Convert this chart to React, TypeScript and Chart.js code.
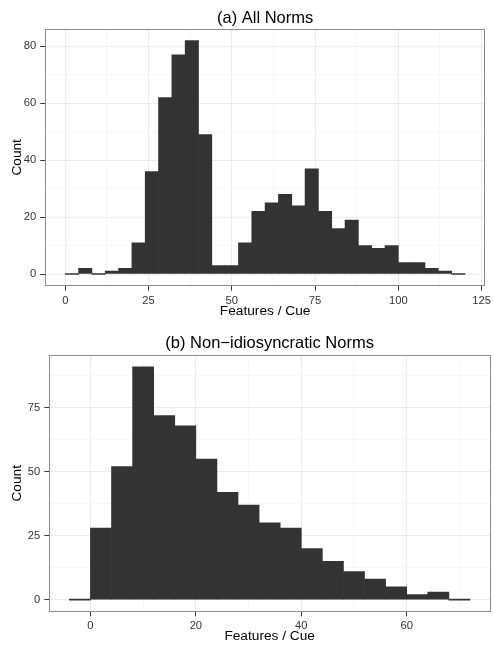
import React, { useEffect, useRef } from 'react';
import { Chart, registerables } from 'chart.js';

Chart.register(...registerables);

const FONT = "'Liberation Sans', Arial, Helvetica, sans-serif";

const titleA = '(a) All Norms';
const titleB = '(b) Non\u2212idiosyncratic Norms';
const xLabel = 'Features / Cue';
const yLabel = 'Count';

// Panel (a): bins of width 4, bin centres
const binMidsA = [2, 6, 10, 14, 18, 22, 26, 30, 34, 38, 42, 46, 50, 54, 58, 62, 66, 70, 74, 78, 82, 86, 90, 94, 98, 102, 106, 110, 114, 118];
const countsA = [0, 2, 0, 1, 2, 11, 36, 62, 77, 82, 49, 3, 3, 11, 22, 25, 28, 24, 37, 22, 16, 19, 10, 9, 10, 4, 4, 2, 1, 0];

// Panel (b)
const binMidsB = [-2, 2, 6, 10, 14, 18, 22, 26, 30, 34, 38, 42, 46, 50, 54, 58, 62, 66, 70];
const countsB = [0, 28, 52, 91, 72, 68, 55, 42, 37, 30, 28, 20, 15, 11, 8, 5, 2, 3, 0];

const xTicksA = [0, 25, 50, 75, 100, 125];
const xMinorA = [12.5, 37.5, 62.5, 87.5, 112.5];
const yTicksA = [0, 20, 40, 60, 80];
const yMinorA = [10, 30, 50, 70];
const xRangeA = [-6, 126];
const yRangeA = [-4.1, 86.1];

const xTicksB = [0, 20, 40, 60];
const xMinorB = [10, 30, 50, 70];
const yTicksB = [0, 25, 50, 75];
const yMinorB = [12.5, 37.5, 62.5, 87.5];
const xRangeB = [-7.8, 75.8];
const yRangeB = [-4.55, 95.55];

const panelBorder = {
  id: 'panelBorder',
  afterDatasetsDraw(chart: any) {
    const { ctx, chartArea: a } = chart;
    ctx.save();
    ctx.strokeStyle = '#8c8c8c';
    ctx.lineWidth = 1;
    const l = Math.floor(a.left) + 0.5;
    const t = Math.floor(a.top) + 0.5;
    const r = Math.floor(a.right) + 0.5;
    const b = Math.floor(a.bottom) + 0.5;
    ctx.strokeRect(l, t, r - l, b - t);
    ctx.restore();
  },
};

function makeAxis(
  major: number[],
  minor: number[],
  range: number[],
  size: number,
  horizontal: boolean,
  title: string,
  titlePad: any
) {
  const all = [...major, ...minor].sort((a, b) => a - b);
  const isMajor = (v: number) => major.includes(v);
  return {
    type: 'linear',
    min: range[0],
    max: range[1],
    offset: false,
    afterBuildTicks: (s: any) => {
      s.ticks = all.map((v) => ({ value: v }));
    },
    afterFit: (s: any) => {
      if (horizontal) s.height = size;
      else s.width = size;
    },
    ticks: {
      autoSkip: false,
      maxRotation: 0,
      minRotation: 0,
      padding: horizontal ? 3 : 4,
      color: '#333333',
      font: { family: FONT, size: 11.2 },
      callback: (v: number) => (isMajor(v) ? String(v) : ''),
    },
    grid: {
      offset: false,
      drawTicks: true,
      tickLength: 5,
      lineWidth: 1,
      tickWidth: 1,
      color: (c: any) => (c.tick && isMajor(c.tick.value) ? '#ebebeb' : '#f7f7f7'),
      tickColor: (c: any) => (c.tick && isMajor(c.tick.value) ? '#333333' : 'rgba(0,0,0,0)'),
    },
    border: { display: false },
    title: {
      display: true,
      text: title,
      color: '#000000',
      font: { family: FONT, size: 13.7 },
      padding: titlePad,
    },
  };
}

type HistProps = {
  mids: number[];
  counts: number[];
  title: string;
  xMajor: number[];
  xMinor: number[];
  yMajor: number[];
  yMinor: number[];
  xRange: number[];
  yRange: number[];
  width: number;
  height: number;
  top: number;
  yAxisWidth: number;
  xAxisHeight: number;
  padRight: number;
  titlePadTop: number;
  titlePadBottom: number;
};

function Histogram(p: HistProps) {
  const ref = useRef<HTMLCanvasElement | null>(null);
  useEffect(() => {
    if (!ref.current) return;
    const chart = new Chart(ref.current, {
      type: 'bar',
      data: {
        datasets: [
          {
            data: p.mids.map((x, i) => ({ x, y: p.counts[i] })),
            backgroundColor: '#333333',
            borderWidth: 0,
            barPercentage: 1,
            categoryPercentage: 1,
            minBarLength: 1,
          } as any,
        ],
      },
      options: {
        responsive: false,
        animation: false,
        layout: { padding: { left: 0, right: p.padRight, top: 0, bottom: 0 } },
        plugins: {
          legend: { display: false },
          tooltip: { enabled: false },
          title: {
            display: true,
            text: p.title,
            color: '#000000',
            fullSize: false,
            font: { family: FONT, size: 16.5, weight: 'normal' },
            padding: { top: p.titlePadTop, bottom: p.titlePadBottom },
          },
        },
        scales: {
          x: makeAxis(p.xMajor, p.xMinor, p.xRange, p.xAxisHeight, true, xLabel, { top: 0, bottom: 1 }) as any,
          y: makeAxis(p.yMajor, p.yMinor, p.yRange, p.yAxisWidth, false, yLabel, { top: 9, bottom: 0 }) as any,
        },
      } as any,
      plugins: [panelBorder],
    });
    return () => chart.destroy();
  }, []);
  return (
    <canvas
      ref={ref}
      width={p.width}
      height={p.height}
      style={{ position: 'absolute', left: 0, top: p.top, width: p.width, height: p.height, display: 'block' }}
    />
  );
}

export default function App() {
  return (
    <div style={{ position: 'absolute', left: 0, top: 0, width: 494, height: 645, background: '#ffffff' }}>
      <Histogram
        mids={binMidsA}
        counts={countsA}
        title={titleA}
        xMajor={xTicksA}
        xMinor={xMinorA}
        yMajor={yTicksA}
        yMinor={yMinorA}
        xRange={xRangeA}
        yRange={yRangeA}
        width={494}
        height={320}
        top={0}
        yAxisWidth={45.3}
        xAxisHeight={34.3}
        padRight={8}
        titlePadTop={9}
        titlePadBottom={0.2}
      />
      <Histogram
        mids={binMidsB}
        counts={countsB}
        title={titleB}
        xMajor={xTicksB}
        xMinor={xMinorB}
        yMajor={yTicksB}
        yMinor={yMinorB}
        xRange={xRangeB}
        yRange={yRangeB}
        width={494}
        height={325}
        top={320}
        yAxisWidth={49.3}
        xAxisHeight={33.7}
        padRight={4}
        titlePadTop={14}
        titlePadBottom={1.5}
      />
    </div>
  );
}
